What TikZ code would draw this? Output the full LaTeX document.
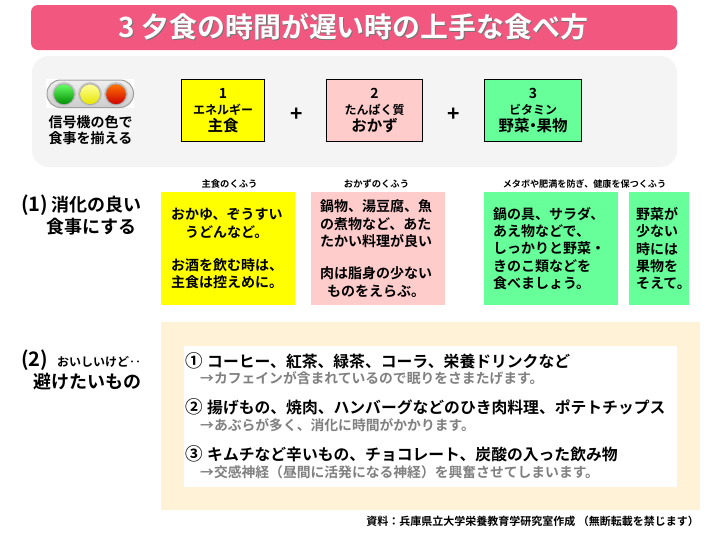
\documentclass[tikz,border=0pt]{standalone}
\usepackage{fontspec}
\setmainfont{Noto Sans CJK JP}[BoldFont={Noto Sans CJK JP Bold}]
\usetikzlibrary{shadings}
\definecolor{titlepink}{HTML}{F2587F}
\definecolor{panelgrey}{HTML}{F4F4F4}
\definecolor{foodyellow}{HTML}{FFFF00}
\definecolor{foodpink}{HTML}{FFCCCC}
\definecolor{foodgreen}{HTML}{66FF99}
\definecolor{cream}{HTML}{FFF2D6}
\definecolor{notegrey}{HTML}{808080}
\newcommand{\fs}[2]{\fontsize{#1}{#2}\selectfont\bfseries}
\newcommand{\keylines}[3]{{\fs{14}{16.5}#1}\\{\fs{12}{16.5}#2}\\{\fs{15.5}{16.5}#3}}
\tikzset{
  keybox/.style={draw=black,line width=1.5pt,minimum height=62pt,align=center,inner sep=0pt,font=\fs{12}{16.5}},
  tipbox/.style={minimum height=113pt,inner ysep=0pt,align=left,font=\fs{14}{17.7}},
  captext/.style={font=\fs{9.3}{11},inner sep=0pt},
  headtext/.style={font=\fs{18}{22},inner sep=0pt,anchor=west,align=left},
  itemtext/.style={font=\fs{15.8}{18},inner sep=0pt,anchor=west},
  notetext/.style={font=\fs{13.8}{16},text=notegrey,inner sep=0pt,anchor=west},
  plustext/.style={font=\fs{21}{22},inner sep=0pt},
  lamp/.style={draw=gray!70,line width=0.6pt}
}
\begin{document}
\begin{tikzpicture}[x=1pt,y=-1pt]
\useasboundingbox (0,0) rectangle (720,536);
\fill[white] (0,0) rectangle (720,536);
% title
\node[fill=titlepink,rounded corners=7pt,minimum width=646pt,minimum height=45pt,inner sep=0pt] (titlebar) at (354,27.5) {};
\node[font=\fs{27.9}{30},text=black!55,inner sep=0pt] (titleshadow) at (354.3,27.3) {3 夕食の時間が遅い時の上手な食べ方};
\node[font=\fs{27.9}{30},text=white,inner sep=0pt] (titletext) at (353.5,26.5) {3 夕食の時間が遅い時の上手な食べ方};
% panel
\node[fill=panelgrey,rounded corners=17pt,minimum width=645pt,minimum height=111pt,inner sep=0pt] (panel) at (354.5,111.5) {};
% traffic light
\fill[white] (46,79) rectangle (134,108);
\draw[draw=gray!75,line width=1pt,top color=gray!12,bottom color=gray!40,rounded corners=13.5pt] (47,80) rectangle (133.5,107.5);
\foreach \cx/\cc/\cd in {64/green!60!white/green!55!black,90/yellow!40!white/yellow!90!black,116/orange!90!red/red!80!black}{
  \fill[gray!45] (\cx,94) circle (12);
  \draw[lamp,top color=\cc,bottom color=\cd] (\cx,94.3) circle (10.3);
}
\node[font=\fs{14}{16},inner sep=0pt,align=center] (signal) at (90.5,130) {信号機の色で\\食事を揃える};
% key boxes
\node[keybox,fill=foodyellow,minimum width=83pt] (key1) at (223,110.5) {\keylines{1}{エネルギー}{主食}};
\node[keybox,fill=foodpink,minimum width=96pt] (key2) at (374.5,110.5) {\keylines{2}{たんぱく質}{おかず}};
\node[keybox,fill=foodgreen,minimum width=97pt] (key3) at (533,110.5) {\keylines{3}{ビタミン}{野菜\makebox[7pt]{・}果物}};
\node[plustext] (plus1) at (297,115) {+};
\node[plustext] (plus2) at (454,115) {+};
% captions
\node[captext] (cap1) at (229.5,184) {主食のくふう};
\node[captext] (cap2) at (376.5,184) {おかずのくふう};
\node[captext,font=\fs{9.1}{11}] (cap3) at (584.5,184) {メタボや肥満を防ぎ、健康を保つくふう};
% heading 1
\node[headtext] (head1) at (21,215) {{\fs{20}{22}(1)}\hspace{3pt}消化の良い\\\hspace{25pt}食事にする};
% tip boxes
\node[tipbox,fill=foodyellow,minimum width=134pt,text width=114pt,inner xsep=10pt] (tip1) at (228,248.5)
  {おかゆ、ぞうすい\\\hspace{14pt}うどんなど。\\[15.3pt]お酒を飲む時は、\\主食は控えめに。};
\node[tipbox,fill=foodpink,minimum width=134pt,text width=116pt,inner xsep=9pt] (tip2) at (378,248.5)
  {鍋物、湯豆腐、魚\\の煮物など、あた\\たかい料理が良い\\[14pt]肉は脂身の少ない\\\hspace{7pt}ものをえらぶ。};
\node[tipbox,fill=foodgreen,minimum width=134pt,text width=116pt,inner xsep=9pt,font=\fs{14}{17.3}] (tip3) at (551,248.5)
  {鍋の具、サラダ、\\あえ物などで、\\しっかりと野菜・\\きのこ類などを\\食べましょう。};
\node[tipbox,fill=foodgreen,minimum width=60pt,text width=46pt,inner xsep=7pt,font=\fs{14}{17.3}] (tip4) at (659,248.5)
  {野菜が\\少ない\\時には\\果物を\\そえて。};
% heading 2
\node[headtext] (head2) at (21,370) {{\fs{20}{22}(2)}\hspace{9pt}{\fs{12}{22}おいしいけど‥}\\\hspace{12pt}避けたいもの};
% avoid panel
\node[fill=cream,minimum width=539pt,minimum height=188pt,inner sep=0pt] (avoid) at (430.5,416) {};
\node[fill=white,minimum width=493pt,minimum height=141pt,inner sep=0pt] (list) at (430.5,416.5) {};
\node[itemtext] (i1) at (185,361) {\makebox[22pt][l]{{\fontsize{17.5}{18}\selectfont ①}}コーヒー、紅茶、緑茶、コーラ、栄養ドリンクなど};
\node[notetext] (n1) at (200,378) {→カフェインが含まれているので眠りをさまたげます。};
\node[itemtext] (i2) at (185,407) {\makebox[22pt][l]{{\fontsize{17.5}{18}\selectfont ②}}揚げもの、焼肉、ハンバーグなどのひき肉料理、ポテトチップス};
\node[notetext] (n2) at (200,425.5) {→あぶらが多く、消化に時間がかかります。};
\node[itemtext] (i3) at (185,454) {\makebox[22pt][l]{{\fontsize{17.5}{18}\selectfont ③}}キムチなど辛いもの、チョコレート、炭酸の入った飲み物};
\node[notetext] (n3) at (200,472) {→交感神経（昼間に活発になる神経）を興奮させてしまいます。};
% source
\node[font=\fs{11}{12},inner sep=0pt,anchor=east] (source) at (699,521) {資料：兵庫県立大学栄養教育学研究室作成 （無断転載を禁じます）};
\end{tikzpicture}
\end{document}
